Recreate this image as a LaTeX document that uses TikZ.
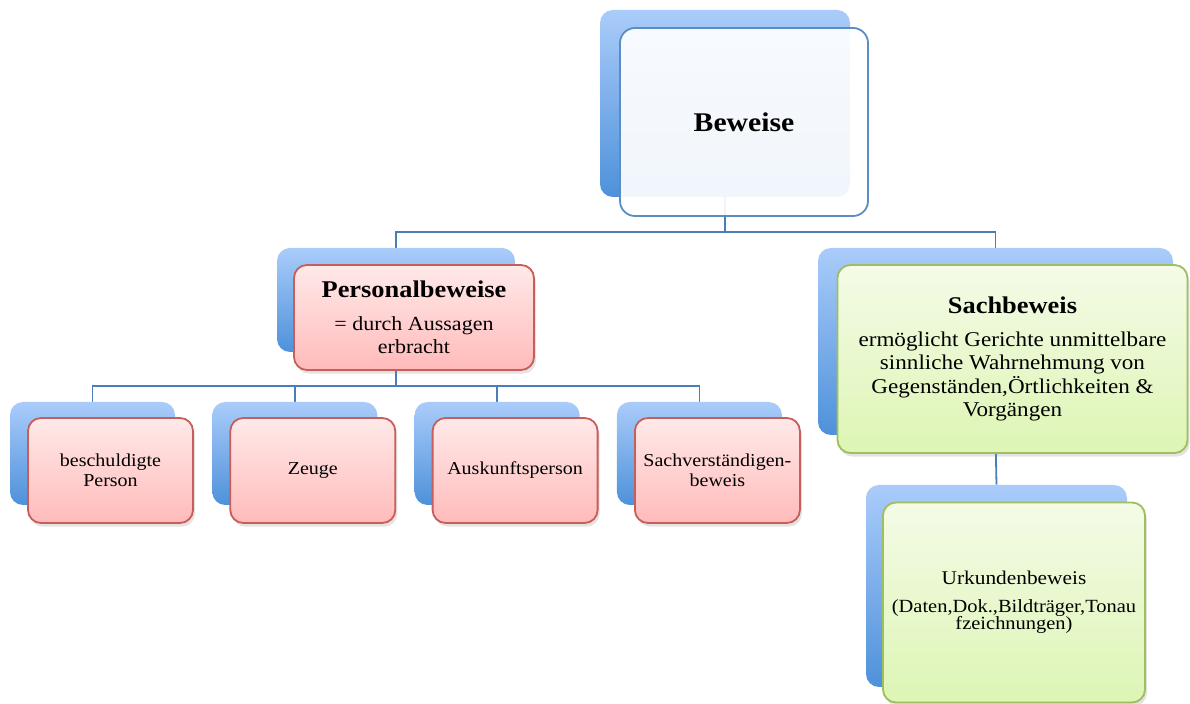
\documentclass[tikz,border=0pt]{standalone}
\usepackage{fontspec}
\setmainfont{Liberation Serif}[FakeStretch=1.1]
\definecolor{backtop}{RGB}{170,204,250}
\definecolor{backbottom}{RGB}{78,145,218}
\definecolor{linkblue}{RGB}{74,126,187}
\definecolor{topline}{RGB}{92,140,196}
\definecolor{pinktop}{RGB}{255,233,233}
\definecolor{pinkbottom}{RGB}{255,187,186}
\definecolor{pinkline}{RGB}{200,94,90}
\definecolor{greentop}{RGB}{244,251,231}
\definecolor{greenbottom}{RGB}{221,245,180}
\definecolor{greenline}{RGB}{158,190,95}
\usetikzlibrary{positioning}
\usetikzlibrary{shadows,backgrounds}

\newcommand\titlefont{\fontsize{12}{14}\selectfont\bfseries}

\tikzset{
  backbox/.style={rounded corners=6.5pt, top color=backtop, bottom color=backbottom, draw=none, inner sep=0pt},
  frontbox/.style={rounded corners=6.5pt, line width=0.9pt, inner sep=2pt, align=center,
    drop shadow={shadow xshift=1pt, shadow yshift=-1.8pt, opacity=0.22}},
  pinkbox/.style={frontbox, draw=pinkline, top color=pinktop, bottom color=pinkbottom},
  greenbox/.style={frontbox, draw=greenline, top color=greentop, bottom color=greenbottom},
  link/.style={draw=linkblue, line width=0.9pt}
}

\begin{document}
\begin{tikzpicture}[x=0.5pt, y=-0.5pt]
  \useasboundingbox (0,0) rectangle (1190,704);

  \node [backbox, minimum width=125pt, minimum height=93.5pt] (beweise-bg) at (725,103.5) {};
  \node [minimum width=124pt, minimum height=94pt, rounded corners=7.5pt, draw=topline, line width=0.9pt,
    fill=white, fill opacity=0.92, text opacity=1,
    font=\fontsize{13.5}{16}\selectfont\bfseries] (beweise) at (744,122) {Beweise};

  \node [backbox, minimum width=119pt, minimum height=52pt] (personal-bg) at (396,300) {};
  \node [pinkbox, minimum width=120pt, minimum height=52.5pt, font=\fontsize{10}{11.5}\selectfont] (personal) at (414,317.5)
    {{\titlefont Personalbeweise}\\[5pt]= durch Aussagen\\erbracht};

  \node [backbox, minimum width=177.5pt, minimum height=93.5pt] (sach-bg) at (995.5,341.5) {};
  \node [greenbox, minimum width=175pt, minimum height=94pt, font=\fontsize{10.5}{11.7}\selectfont] (sach) at (1012.5,359)
    {{\titlefont Sachbeweis}\\[4.8pt]ermöglicht Gerichte unmittelbare\\sinnliche Wahrnehmung von\\Gegenständen,Örtlichkeiten \&\\Vorgängen};

  \node [backbox, minimum width=130.5pt, minimum height=101pt] (urkunden-bg) at (996.5,586) {};
  \node [greenbox, minimum width=131pt, minimum height=100pt, font=\fontsize{9.3}{8.6}\selectfont] (urkunden) at (1014,602.5)
    {{\fontsize{9.7}{11}\selectfont Urkundenbeweis}\\[5.5pt](Daten,Dok.,Bildträger,Tonau\\fzeichnungen)};

  \foreach \i/\txt in {0/{beschuldigte\\Person}, 1/Zeuge, 2/Auskunftsperson, 3/{Sachverständigen-\\beweis}} {
    \node [backbox, minimum width=82.5pt, minimum height=51.5pt] (child\i-bg) at ({92.5+202.3*\i},453.5) {};
    \node [pinkbox, minimum width=82.5pt, minimum height=52.5pt, font=\fontsize{9.1}{10}\selectfont] (child\i) at ({110.5+202.3*\i},470.5) {\txt};
  }

  \begin{scope}[on background layer]
    \draw [link] (beweise-bg.south) -- ++(0,35) -| (personal-bg.north);
    \draw [link] (beweise-bg.south) -- ++(0,35) -| (sach-bg.north);
    \draw [link] (sach-bg.south) -- (urkunden-bg.north);
    \foreach \i in {0,...,3}
      \draw [link] (personal-bg.south) -- ++(0,34) -| (child\i-bg.north);
  \end{scope}

\end{tikzpicture}
\end{document}
